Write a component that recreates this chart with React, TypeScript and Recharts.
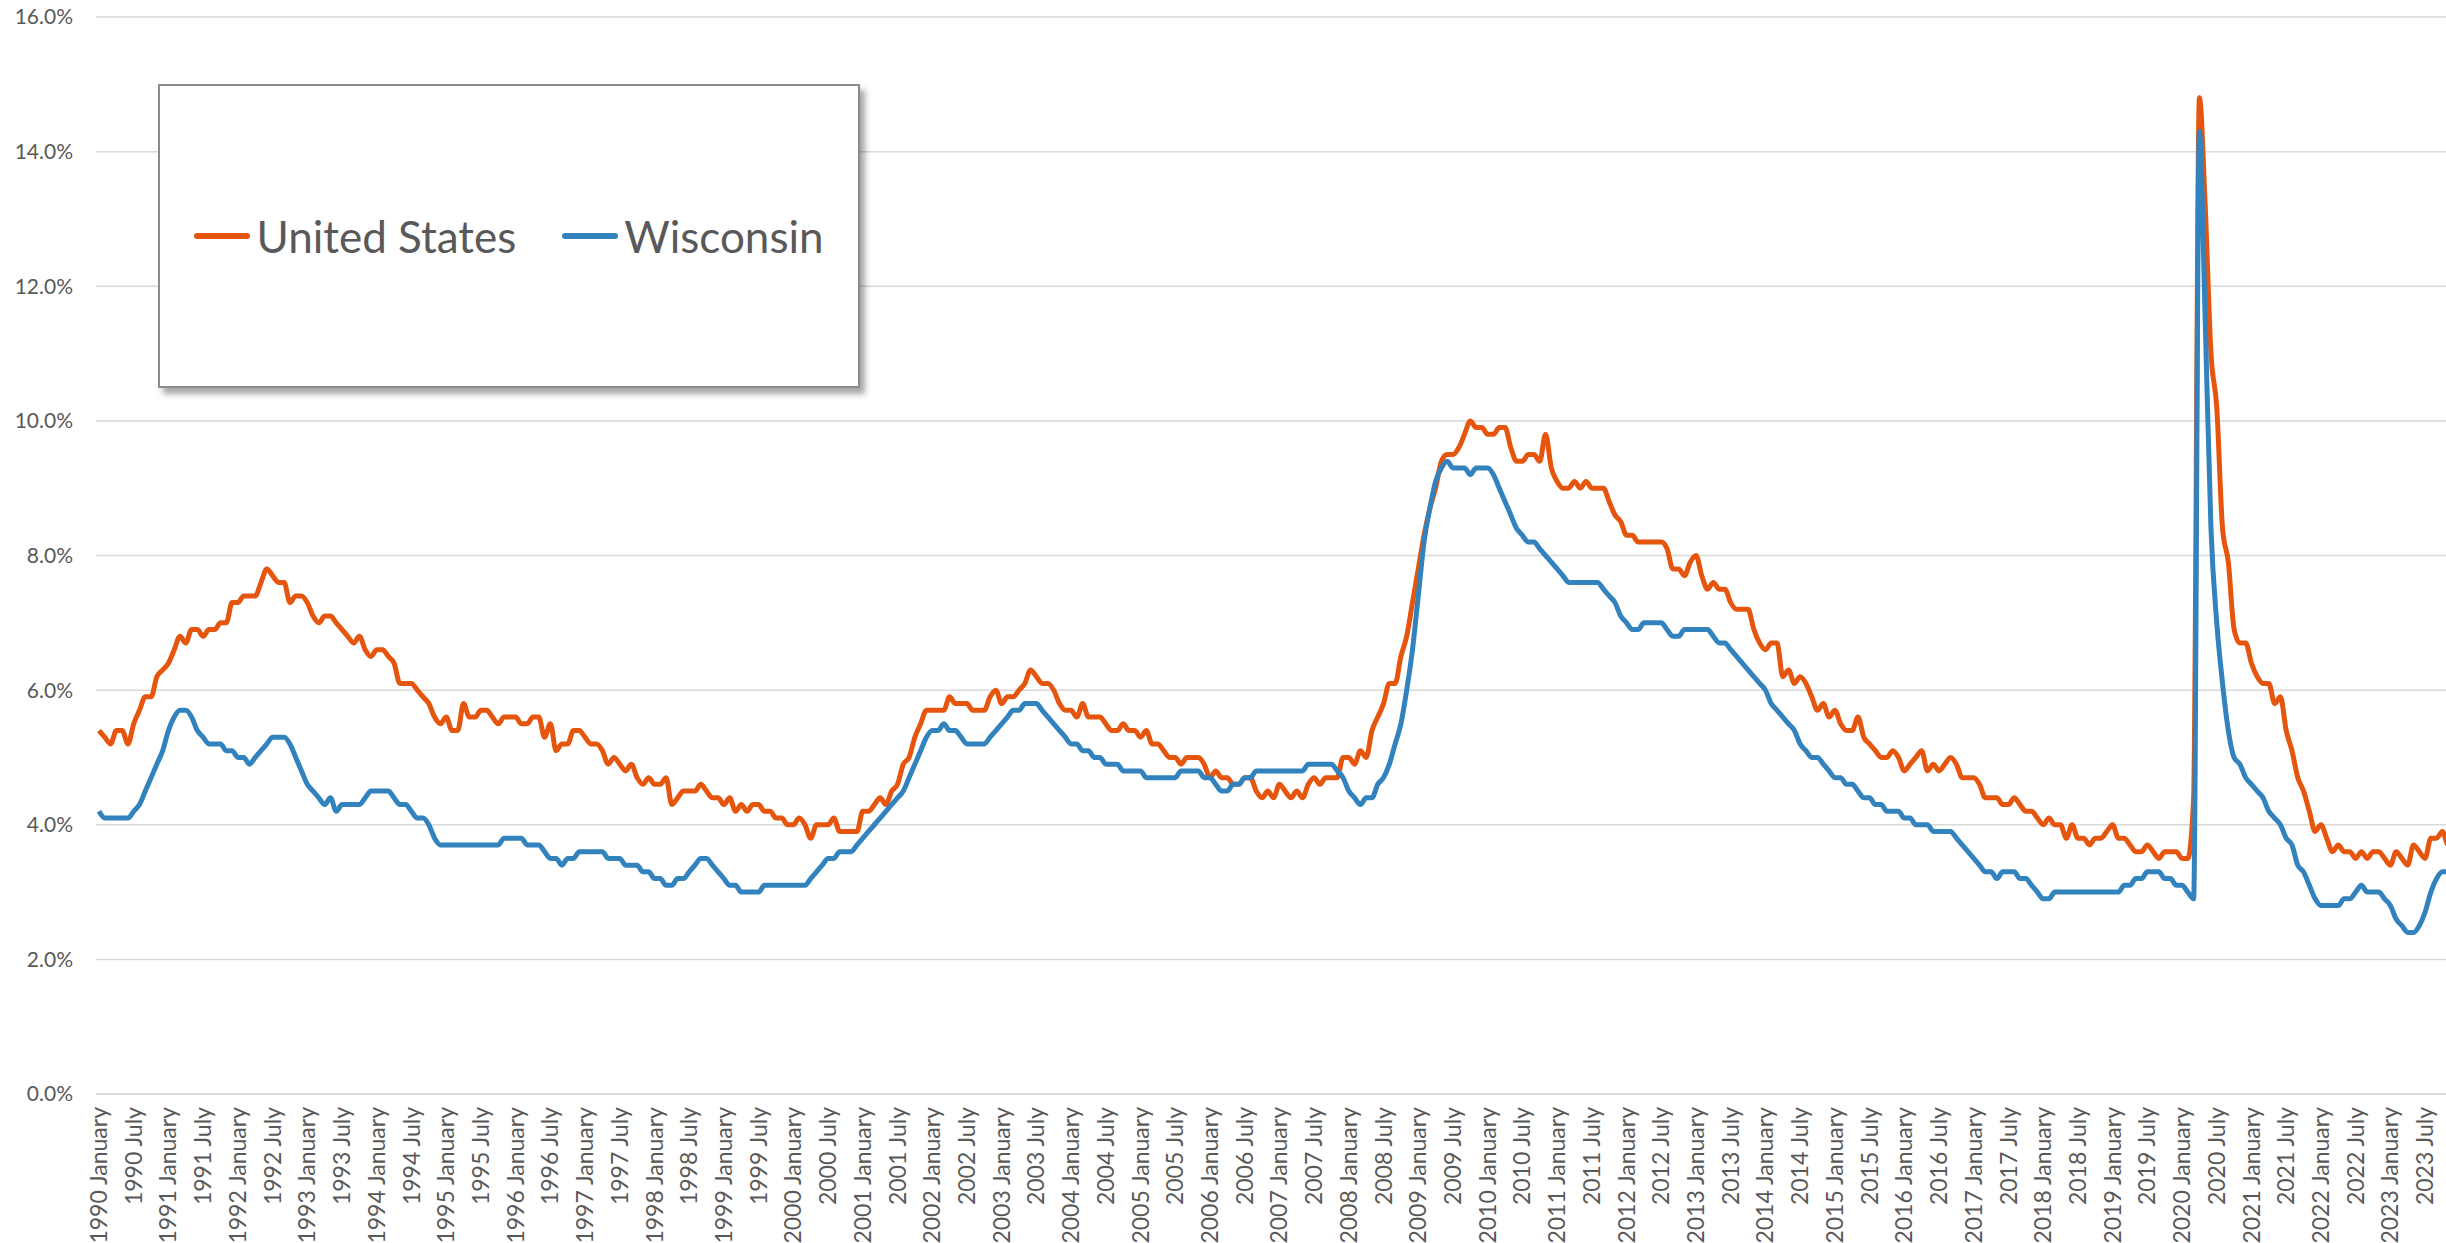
import { LineChart, Line, XAxis, YAxis, CartesianGrid, Legend } from "recharts"

const monthNames = [
  "January", "February", "March", "April", "May", "June",
  "July", "August", "September", "October", "November", "December",
]
const years = Array.from({ length: 34 }, (_, k) => 1990 + k)
const months = years.flatMap((y) => monthNames.map((m) => `${y} ${m}`))

// unemployment rate, %, one row per year
const unitedStates = [
  5.4, 5.3, 5.2, 5.4, 5.4, 5.2, 5.5, 5.7, 5.9, 5.9, 6.2, 6.3,
  6.4, 6.6, 6.8, 6.7, 6.9, 6.9, 6.8, 6.9, 6.9, 7.0, 7.0, 7.3,
  7.3, 7.4, 7.4, 7.4, 7.6, 7.8, 7.7, 7.6, 7.6, 7.3, 7.4, 7.4,
  7.3, 7.1, 7.0, 7.1, 7.1, 7.0, 6.9, 6.8, 6.7, 6.8, 6.6, 6.5,
  6.6, 6.6, 6.5, 6.4, 6.1, 6.1, 6.1, 6.0, 5.9, 5.8, 5.6, 5.5,
  5.6, 5.4, 5.4, 5.8, 5.6, 5.6, 5.7, 5.7, 5.6, 5.5, 5.6, 5.6,
  5.6, 5.5, 5.5, 5.6, 5.6, 5.3, 5.5, 5.1, 5.2, 5.2, 5.4, 5.4,
  5.3, 5.2, 5.2, 5.1, 4.9, 5.0, 4.9, 4.8, 4.9, 4.7, 4.6, 4.7,
  4.6, 4.6, 4.7, 4.3, 4.4, 4.5, 4.5, 4.5, 4.6, 4.5, 4.4, 4.4,
  4.3, 4.4, 4.2, 4.3, 4.2, 4.3, 4.3, 4.2, 4.2, 4.1, 4.1, 4.0,
  4.0, 4.1, 4.0, 3.8, 4.0, 4.0, 4.0, 4.1, 3.9, 3.9, 3.9, 3.9,
  4.2, 4.2, 4.3, 4.4, 4.3, 4.5, 4.6, 4.9, 5.0, 5.3, 5.5, 5.7,
  5.7, 5.7, 5.7, 5.9, 5.8, 5.8, 5.8, 5.7, 5.7, 5.7, 5.9, 6.0,
  5.8, 5.9, 5.9, 6.0, 6.1, 6.3, 6.2, 6.1, 6.1, 6.0, 5.8, 5.7,
  5.7, 5.6, 5.8, 5.6, 5.6, 5.6, 5.5, 5.4, 5.4, 5.5, 5.4, 5.4,
  5.3, 5.4, 5.2, 5.2, 5.1, 5.0, 5.0, 4.9, 5.0, 5.0, 5.0, 4.9,
  4.7, 4.8, 4.7, 4.7, 4.6, 4.6, 4.7, 4.7, 4.5, 4.4, 4.5, 4.4,
  4.6, 4.5, 4.4, 4.5, 4.4, 4.6, 4.7, 4.6, 4.7, 4.7, 4.7, 5.0,
  5.0, 4.9, 5.1, 5.0, 5.4, 5.6, 5.8, 6.1, 6.1, 6.5, 6.8, 7.3,
  7.8, 8.3, 8.7, 9.0, 9.4, 9.5, 9.5, 9.6, 9.8, 10.0, 9.9, 9.9,
  9.8, 9.8, 9.9, 9.9, 9.6, 9.4, 9.4, 9.5, 9.5, 9.4, 9.8, 9.3,
  9.1, 9.0, 9.0, 9.1, 9.0, 9.1, 9.0, 9.0, 9.0, 8.8, 8.6, 8.5,
  8.3, 8.3, 8.2, 8.2, 8.2, 8.2, 8.2, 8.1, 7.8, 7.8, 7.7, 7.9,
  8.0, 7.7, 7.5, 7.6, 7.5, 7.5, 7.3, 7.2, 7.2, 7.2, 6.9, 6.7,
  6.6, 6.7, 6.7, 6.2, 6.3, 6.1, 6.2, 6.1, 5.9, 5.7, 5.8, 5.6,
  5.7, 5.5, 5.4, 5.4, 5.6, 5.3, 5.2, 5.1, 5.0, 5.0, 5.1, 5.0,
  4.8, 4.9, 5.0, 5.1, 4.8, 4.9, 4.8, 4.9, 5.0, 4.9, 4.7, 4.7,
  4.7, 4.6, 4.4, 4.4, 4.4, 4.3, 4.3, 4.4, 4.3, 4.2, 4.2, 4.1,
  4.0, 4.1, 4.0, 4.0, 3.8, 4.0, 3.8, 3.8, 3.7, 3.8, 3.8, 3.9,
  4.0, 3.8, 3.8, 3.7, 3.6, 3.6, 3.7, 3.6, 3.5, 3.6, 3.6, 3.6,
  3.5, 3.5, 4.4, 14.8, 13.2, 11.0, 10.2, 8.4, 7.9, 6.9, 6.7, 6.7,
  6.4, 6.2, 6.1, 6.1, 5.8, 5.9, 5.4, 5.1, 4.7, 4.5, 4.2, 3.9,
  4.0, 3.8, 3.6, 3.7, 3.6, 3.6, 3.5, 3.6, 3.5, 3.6, 3.6, 3.5,
  3.4, 3.6, 3.5, 3.4, 3.7, 3.6, 3.5, 3.8, 3.8, 3.9, 3.7, 3.7,
]

const wisconsin = [
  4.2, 4.1, 4.1, 4.1, 4.1, 4.1, 4.2, 4.3, 4.5, 4.7, 4.9, 5.1,
  5.4, 5.6, 5.7, 5.7, 5.6, 5.4, 5.3, 5.2, 5.2, 5.2, 5.1, 5.1,
  5.0, 5.0, 4.9, 5.0, 5.1, 5.2, 5.3, 5.3, 5.3, 5.2, 5.0, 4.8,
  4.6, 4.5, 4.4, 4.3, 4.4, 4.2, 4.3, 4.3, 4.3, 4.3, 4.4, 4.5,
  4.5, 4.5, 4.5, 4.4, 4.3, 4.3, 4.2, 4.1, 4.1, 4.0, 3.8, 3.7,
  3.7, 3.7, 3.7, 3.7, 3.7, 3.7, 3.7, 3.7, 3.7, 3.7, 3.8, 3.8,
  3.8, 3.8, 3.7, 3.7, 3.7, 3.6, 3.5, 3.5, 3.4, 3.5, 3.5, 3.6,
  3.6, 3.6, 3.6, 3.6, 3.5, 3.5, 3.5, 3.4, 3.4, 3.4, 3.3, 3.3,
  3.2, 3.2, 3.1, 3.1, 3.2, 3.2, 3.3, 3.4, 3.5, 3.5, 3.4, 3.3,
  3.2, 3.1, 3.1, 3.0, 3.0, 3.0, 3.0, 3.1, 3.1, 3.1, 3.1, 3.1,
  3.1, 3.1, 3.1, 3.2, 3.3, 3.4, 3.5, 3.5, 3.6, 3.6, 3.6, 3.7,
  3.8, 3.9, 4.0, 4.1, 4.2, 4.3, 4.4, 4.5, 4.7, 4.9, 5.1, 5.3,
  5.4, 5.4, 5.5, 5.4, 5.4, 5.3, 5.2, 5.2, 5.2, 5.2, 5.3, 5.4,
  5.5, 5.6, 5.7, 5.7, 5.8, 5.8, 5.8, 5.7, 5.6, 5.5, 5.4, 5.3,
  5.2, 5.2, 5.1, 5.1, 5.0, 5.0, 4.9, 4.9, 4.9, 4.8, 4.8, 4.8,
  4.8, 4.7, 4.7, 4.7, 4.7, 4.7, 4.7, 4.8, 4.8, 4.8, 4.8, 4.7,
  4.7, 4.6, 4.5, 4.5, 4.6, 4.6, 4.7, 4.7, 4.8, 4.8, 4.8, 4.8,
  4.8, 4.8, 4.8, 4.8, 4.8, 4.9, 4.9, 4.9, 4.9, 4.9, 4.8, 4.7,
  4.5, 4.4, 4.3, 4.4, 4.4, 4.6, 4.7, 4.9, 5.2, 5.5, 6.0, 6.6,
  7.4, 8.2, 8.7, 9.1, 9.3, 9.4, 9.3, 9.3, 9.3, 9.2, 9.3, 9.3,
  9.3, 9.2, 9.0, 8.8, 8.6, 8.4, 8.3, 8.2, 8.2, 8.1, 8.0, 7.9,
  7.8, 7.7, 7.6, 7.6, 7.6, 7.6, 7.6, 7.6, 7.5, 7.4, 7.3, 7.1,
  7.0, 6.9, 6.9, 7.0, 7.0, 7.0, 7.0, 6.9, 6.8, 6.8, 6.9, 6.9,
  6.9, 6.9, 6.9, 6.8, 6.7, 6.7, 6.6, 6.5, 6.4, 6.3, 6.2, 6.1,
  6.0, 5.8, 5.7, 5.6, 5.5, 5.4, 5.2, 5.1, 5.0, 5.0, 4.9, 4.8,
  4.7, 4.7, 4.6, 4.6, 4.5, 4.4, 4.4, 4.3, 4.3, 4.2, 4.2, 4.2,
  4.1, 4.1, 4.0, 4.0, 4.0, 3.9, 3.9, 3.9, 3.9, 3.8, 3.7, 3.6,
  3.5, 3.4, 3.3, 3.3, 3.2, 3.3, 3.3, 3.3, 3.2, 3.2, 3.1, 3.0,
  2.9, 2.9, 3.0, 3.0, 3.0, 3.0, 3.0, 3.0, 3.0, 3.0, 3.0, 3.0,
  3.0, 3.0, 3.1, 3.1, 3.2, 3.2, 3.3, 3.3, 3.3, 3.2, 3.2, 3.1,
  3.1, 3.0, 2.9, 14.3, 11.5, 8.4, 7.0, 6.1, 5.4, 5.0, 4.9, 4.7,
  4.6, 4.5, 4.4, 4.2, 4.1, 4.0, 3.8, 3.7, 3.4, 3.3, 3.1, 2.9,
  2.8, 2.8, 2.8, 2.8, 2.9, 2.9, 3.0, 3.1, 3.0, 3.0, 3.0, 2.9,
  2.8, 2.6, 2.5, 2.4, 2.4, 2.5, 2.7, 3.0, 3.2, 3.3, 3.3, 3.3,
]

const yTicks = [0, 2, 4, 6, 8, 10, 12, 14, 16]

const data = months.map((month, i) => ({
  month,
  us: unitedStates[i],
  wi: wisconsin[i],
}))

const font = "Lato, 'Open Sans', sans-serif"
const textGray = "#595959"

function MonthTick({ x, y, payload }: any) {
  return (
    <text
      x={x}
      y={y + 11}
      transform={`rotate(-90, ${x}, ${y + 11})`}
      textAnchor="end"
      dy="0.35em"
      fill={textGray}
      fontSize={23}
      fontFamily={font}
    >
      {payload.value}
    </text>
  )
}

function LegendBox({ payload }: any) {
  return (
    <div
      style={{
        boxSizing: "border-box",
        width: 702,
        height: 304,
        border: "2px solid #8c8c8c",
        background: "#fff",
        boxShadow: "5px 6px 6px rgba(0,0,0,0.35)",
        display: "flex",
        alignItems: "center",
        justifyContent: "center",
        gap: 46,
        fontFamily: font,
        fontSize: 44,
        color: textGray,
      }}
    >
      {(payload || []).map((item: any) => (
        <div key={item.value} style={{ display: "flex", alignItems: "center" }}>
          <svg width={56} height={10}>
            <line x1={3} y1={5} x2={53} y2={5} stroke={item.color} strokeWidth={6} strokeLinecap="round" />
          </svg>
          <span style={{ marginLeft: 6 }}>{item.value}</span>
        </div>
      ))}
    </div>
  )
}

export default function App() {
  return (
    <div
      style={{
        position: "absolute",
        left: 0,
        top: 0,
        width: 2446,
        height: 1243,
        overflow: "hidden",
        background: "#fff",
      }}
    >
      <LineChart
        width={2457}
        height={1243}
        data={data}
        margin={{ top: 17, right: 0, bottom: 0, left: 0 }}
      >
        <CartesianGrid vertical={false} stroke="#d9d9d9" strokeWidth={1.5} />
        <XAxis
          dataKey="month"
          interval={5}
          height={149}
          padding={{ left: 3, right: 3 }}
          tickLine={false}
          tickSize={0}
          axisLine={{ stroke: "#d9d9d9", strokeWidth: 1.5 }}
          tick={<MonthTick />}
        />
        <YAxis
          width={96}
          domain={[0, 16]}
          ticks={yTicks}
          axisLine={false}
          tickLine={false}
          tickSize={0}
          tickMargin={23}
          tickFormatter={(v: number) => `${v.toFixed(1)}%`}
          tick={{ fill: textGray, fontSize: 21, fontFamily: font }}
        />
        <Legend
          layout="horizontal"
          verticalAlign="middle"
          align="center"
          wrapperStyle={{ left: 158, top: 84, width: 702, height: 304 }}
          content={<LegendBox />}
        />
        <Line
          type="monotone"
          dataKey="us"
          name="United States"
          stroke="#e6550d"
          strokeWidth={5}
          dot={false}
          activeDot={false}
          isAnimationActive={false}
        />
        <Line
          type="monotone"
          dataKey="wi"
          name="Wisconsin"
          stroke="#3182bd"
          strokeWidth={5}
          dot={false}
          activeDot={false}
          isAnimationActive={false}
        />
      </LineChart>
    </div>
  )
}
